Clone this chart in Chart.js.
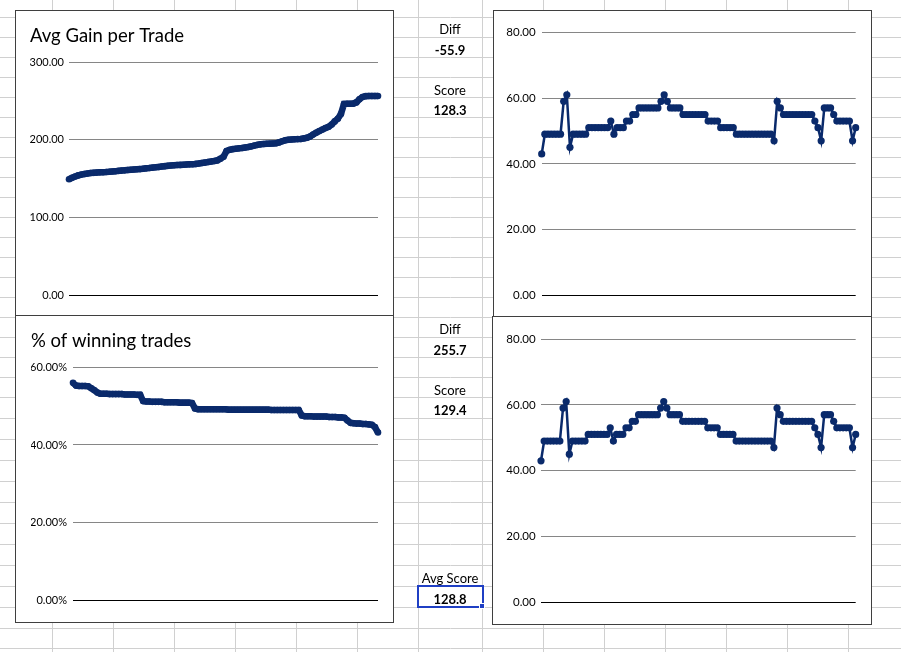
<!DOCTYPE html>
<html>
<head>
<meta charset="utf-8">
<script src="https://cdn.jsdelivr.net/npm/chart.js@4.4.0/dist/chart.umd.min.js"></script>
<style>
  body { margin: 0; width: 901px; height: 652px; overflow: hidden; background: #fff; font-family: Lato, "Open Sans", sans-serif; }
  #sheet { position: absolute; left: 0; top: 0; }
  .box { position: absolute; background: #fff; border: 1px solid #3f3f3f; box-sizing: border-box; }
  .box canvas { position: absolute; left: 0; top: 0; }
  .cell { position: absolute; width: 64px; left: 418px; text-align: center; font-size: 13px; color: #000; line-height: 16px; }
  .cell.b { font-weight: bold; }
  #sel { position: absolute; left: 417px; top: 585px; width: 63px; height: 19px; border: 2px solid #1f3fc4; }
  #handle { position: absolute; left: 479px; top: 603px; width: 6px; height: 6px; background: #1f3fc4; border: 1px solid #fff; box-sizing: border-box; }
</style>
</head>
<body>
<canvas id="sheet" width="901" height="652"></canvas>

<div class="box" style="left:15px; top:10px; width:379px; height:306px;"><canvas id="gainChart" width="377" height="304"></canvas></div>
<div class="box" style="left:15px; top:315px; width:379px; height:308px;"><canvas id="winChart" width="377" height="306"></canvas></div>
<div class="box" style="left:493px; top:10px; width:379px; height:307px;"><canvas id="paramChart1" width="377" height="305"></canvas></div>
<div class="box" style="left:492px; top:316px; width:380px; height:309px;"><canvas id="paramChart2" width="378" height="307"></canvas></div>

<div class="cell" style="top:21px;">Diff</div>
<div class="cell b" style="top:42px;">-55.9</div>
<div class="cell" style="top:82px;">Score</div>
<div class="cell b" style="top:102px;">128.3</div>
<div class="cell" style="top:321px;">Diff</div>
<div class="cell b" style="top:342px;">255.7</div>
<div class="cell" style="top:382px;">Score</div>
<div class="cell b" style="top:402px;">129.4</div>
<div class="cell" style="top:570px;">Avg Score</div>
<div id="sel"></div>
<div class="cell b" style="top:591px;">128.8</div>
<div id="handle"></div>

<script>
// 데이터
let gainValues = [
    149, 151, 152.5, 154, 155, 155.8, 156.5, 157, 157.3, 157.6,
    157.9, 158.1, 158.3, 158.6, 159, 159.4, 159.8, 160.2, 160.5, 160.9,
    161.3, 161.6, 161.9, 162.1, 162.6, 163.1, 163.5, 164, 164.4, 164.9,
    165.4, 165.9, 166.3, 166.7, 167, 167.3, 167.5, 167.8, 168, 168.2,
    168.4, 168.8, 169.3, 170, 170.5, 171.2, 171.8, 172.5, 173.3, 175.5,
    178, 185.5, 187, 187.8, 188.3, 188.8, 189.3, 190, 190.6, 191.4,
    192.4, 193.3, 194, 194.4, 194.7, 194.9, 195.1, 195.3, 196.5, 198,
    199.2, 199.8, 200.2, 200.5, 200.7, 200.9, 201.6, 202.4, 204, 206.5,
    209, 211, 213, 215, 216.5, 219.5, 223.5, 227, 233, 246,
    246.2, 246.3, 246.4, 248, 252, 255, 256, 256.2, 256.2, 256.3,
    256.3
];

let winValues = [
    56.0, 55.3, 55.2, 55.2, 55.2, 55.1, 54.6, 54.1, 53.5,
    53.2, 53.2, 53.2, 53.1, 53.1, 53.1, 53.1, 53.1, 53.0, 53.0, 53.0, 53.0, 52.9, 52.9,
    51.3,
    51.2, 51.2, 51.1, 51.1, 51.1, 51.1, 51.0, 51.0, 51.0, 51.0, 51.0, 50.9, 50.9, 50.9, 50.9, 50.8,
    49.4,
    49.2, 49.2, 49.2, 49.2, 49.2, 49.2, 49.2, 49.2, 49.2, 49.2,
    49.1, 49.1, 49.1, 49.1, 49.1, 49.1, 49.1, 49.1, 49.1, 49.1, 49.1, 49.1, 49.1, 49.1,
    49.0, 49.0, 49.0, 49.0, 49.0, 49.0, 49.0, 49.0, 49.0, 49.0,
    47.6,
    47.4, 47.4, 47.4, 47.3, 47.3, 47.3, 47.3, 47.3, 47.2, 47.2, 47.2, 47.1, 47.1, 47.0,
    46.3, 45.7,
    45.6, 45.5, 45.5, 45.4, 45.4, 45.3, 45.2,
    44.6, 43.2
];

let paramValues = [
    43, 49, 49, 49, 49, 49, 49, 59, 61, 45,
    49, 49, 49, 49, 49, 51, 51, 51, 51, 51,
    51, 51, 53, 49, 51, 51, 51, 53, 53, 55,
    55, 57, 57, 57, 57, 57, 57, 57, 59, 61,
    59, 57, 57, 57, 57, 55, 55, 55, 55, 55,
    55, 55, 55, 53, 53, 53, 53, 51, 51, 51,
    51, 51, 49, 49, 49, 49, 49, 49, 49, 49,
    49, 49, 49, 49, 47, 59, 57, 55, 55, 55,
    55, 55, 55, 55, 55, 55, 55, 53, 51, 47,
    57, 57, 57, 55, 53, 53, 53, 53, 53, 47,
    51
];

let gainTicks = [0, 300, 100];   // min, max, step
let winTicks = [0, 60, 20];
let paramTicks = [0, 80, 20];

// 엑셀 셀 격자
let colLines = [52, 113, 174, 235, 296, 357, 418, 482, 543, 604, 665, 726, 787, 848];
let rowLines = [17, 37, 57, 77, 97, 117, 137, 157, 177, 197, 217, 237, 257, 277, 297, 317,
    337, 357, 377, 397, 418, 439, 460, 481, 502, 523, 544, 565, 586, 607, 628, 648];

let sheet = document.getElementById("sheet").getContext("2d");
sheet.strokeStyle = "#d0d0d0";
sheet.lineWidth = 1;
sheet.beginPath();
for (let x of colLines) { sheet.moveTo(x + 0.5, 0); sheet.lineTo(x + 0.5, 652); }
for (let y of rowLines) { sheet.moveTo(0, y + 0.5); sheet.lineTo(901, y + 0.5); }
sheet.stroke();

const NAVY = "#0a2a6b";
const FONT = "Lato, 'Open Sans', sans-serif";

// 차트 그리는 함수
function makeChart(id, values, ticks, opt) {
    let config = {
        type: "line",
        data: {
            labels: values.map((v, i) => i + 1),
            datasets: [{
                data: values,
                borderColor: NAVY,
                backgroundColor: NAVY,
                borderWidth: opt.lineWidth,
                pointRadius: opt.pointRadius,
                pointBorderWidth: 0,
                pointBackgroundColor: NAVY,
                tension: 0
            }]
        },
        options: {
            responsive: false,
            animation: false,
            devicePixelRatio: 1,
            layout: { padding: opt.padding },
            plugins: {
                legend: { display: false },
                tooltip: { enabled: false },
                title: {
                    display: !!opt.title,
                    text: opt.title || "",
                    align: "start",
                    color: "#000",
                    font: { family: FONT, size: 18.5, weight: "normal", lineHeight: 1.2 },
                    padding: opt.titlePad || 0
                }
            },
            scales: {
                x: { display: false, offset: false },
                y: {
                    min: ticks[0],
                    max: ticks[1],
                    afterFit: function (s) { s.width = opt.axisWidth; },
                    border: { display: false },
                    grid: {
                        drawTicks: false,
                        color: (c) => (c.tick && c.tick.value === 0 ? "#000" : "#868686"),
                        lineWidth: 1
                    },
                    ticks: {
                        stepSize: ticks[2],
                        padding: opt.labelPad,
                        color: "#000",
                        font: { family: FONT, size: opt.tickSize },
                        callback: opt.format
                    }
                }
            }
        }
    };
    return new Chart(document.getElementById(id), config);
}

makeChart("gainChart", gainValues, gainTicks, {
    title: "Avg Gain per Trade",
    titlePad: { top: 13.5, bottom: 15.3 },
    padding: { left: 14, right: 15, top: 0, bottom: 20 },
    axisWidth: 39, labelPad: 5, tickSize: 11, lineWidth: 6.5, pointRadius: 3.3,
    format: (v) => v.toFixed(2)
});

makeChart("winChart", winValues, winTicks, {
    title: "% of winning trades",
    titlePad: { top: 14, bottom: 15.1 },
    padding: { left: 15, right: 15, top: 0, bottom: 21.7 },
    axisWidth: 42, labelPad: 6, tickSize: 11, lineWidth: 6.5, pointRadius: 3.3,
    format: (v) => v.toFixed(2) + "%"
});

makeChart("paramChart1", paramValues, paramTicks, {
    padding: { left: 0, right: 15.3, top: 21.3, bottom: 20.7 },
    axisWidth: 47.7, labelPad: 6, tickSize: 11.5, lineWidth: 2.5, pointRadius: 3.6,
    format: (v) => v.toFixed(2)
});

makeChart("paramChart2", paramValues, paramTicks, {
    padding: { left: 0, right: 15.3, top: 22, bottom: 21.7 },
    axisWidth: 48, labelPad: 5.3, tickSize: 11.5, lineWidth: 2.5, pointRadius: 3.6,
    format: (v) => v.toFixed(2)
});
</script>
</body>
</html>
